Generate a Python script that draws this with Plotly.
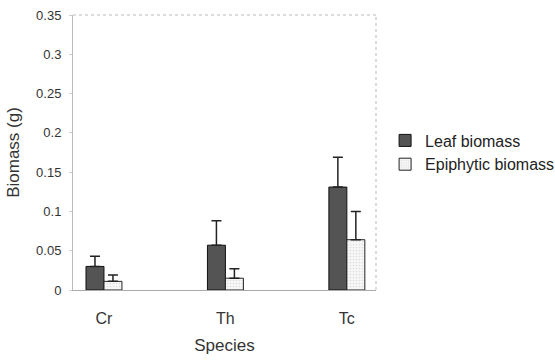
import plotly.graph_objects as go

species = ["Cr", "Th", "Tc"]
leaf = [0.030, 0.057, 0.131]
leaf_err = [0.013, 0.031, 0.038]
epi = [0.011, 0.015, 0.064]
epi_err = [0.008, 0.012, 0.036]
yticks = [0, 0.05, 0.1, 0.15, 0.2, 0.25, 0.3, 0.35]
ytick_text = ["0", "0.05", "0.1", "0.15", "0.2", "0.25", "0.3", "0.35"]

xpos = list(range(len(species)))
FONT = "Liberation Sans, Arial, sans-serif"

fig = go.Figure()
fig.add_trace(go.Bar(
    x=xpos, y=leaf, name="Leaf biomass",
    marker=dict(color="#545454", line=dict(color="#111", width=1)),
    error_y=dict(type="data", symmetric=False, array=leaf_err,
                 arrayminus=[0] * 3, color="#222", thickness=1.5, width=5),
))
fig.add_trace(go.Bar(
    x=xpos, y=epi, name="Epiphytic biomass",
    marker=dict(color="#f4f4f4", line=dict(color="#222", width=1),
                pattern=dict(shape=".", fgcolor="#c4c4c4", bgcolor="#f7f7f7",
                             size=3, solidity=0.25)),
    error_y=dict(type="data", symmetric=False, array=epi_err,
                 arrayminus=[0] * 3, color="#222", thickness=1.5, width=5),
))

fig.update_layout(
    width=555, height=360,
    margin=dict(l=73, r=179, t=15, b=70, autoexpand=False),
    paper_bgcolor="white", plot_bgcolor="white",
    barmode="group", bargap=0.704, bargroupgap=0,
    font=dict(family=FONT, size=13, color="#333"),
    showlegend=True,
    legend=dict(x=1.03, y=0.5, xanchor="left", yanchor="middle",
                font=dict(family=FONT, size=16, color="#222"),
                tracegroupgap=0, itemwidth=30, bgcolor="rgba(0,0,0,0)"),
    xaxis=dict(
        tickmode="array", tickvals=xpos, ticktext=species,
        range=[-0.255, 2.24], showgrid=False, zeroline=False,
        showline=True, linecolor="#aaa", linewidth=1, automargin=False,
        ticks="", ticklabelstandoff=14, tickfont=dict(size=16, color="#333"),
        title=dict(text="Species", font=dict(size=17, color="#333"), standoff=12),
    ),
    yaxis=dict(
        range=[0, 0.35], tickmode="array", tickvals=yticks, ticktext=ytick_text,
        showgrid=False, zeroline=False, showline=True, linecolor="#bbb",
        linewidth=1, ticks="outside", ticklen=3, tickcolor="#ccc",
        ticklabelstandoff=5, automargin=False,
        tickfont=dict(size=13, color="#333"),
        title=dict(text="Biomass (g)", font=dict(size=17, color="#333"), standoff=12),
    ),
    shapes=[
        dict(type="line", xref="paper", yref="paper", x0=0, x1=1, y0=1, y1=1,
             line=dict(color="#bbb", width=1, dash="dot")),
        dict(type="line", xref="paper", yref="paper", x0=1, x1=1, y0=0, y1=1,
             line=dict(color="#bbb", width=1, dash="dot")),
    ],
)

fig.write_html("out.html")
